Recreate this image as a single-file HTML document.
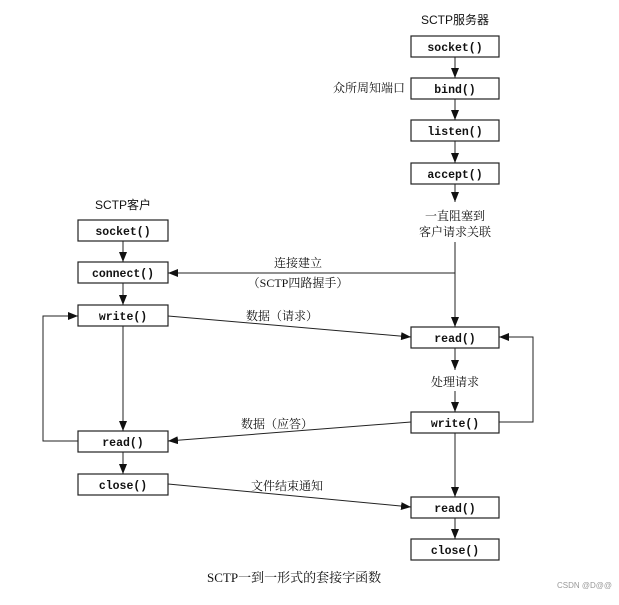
<!DOCTYPE html>
<html><head><meta charset="utf-8"><style>
body{margin:0;background:#fff;width:619px;height:600px;overflow:hidden}
svg text{font-family:"Liberation Serif","Noto Serif CJK SC",serif;font-size:12px;fill:#111}
.m{font-family:"Liberation Mono",monospace;font-size:11.5px;font-weight:bold}
.s{font-family:"Liberation Sans","Noto Sans CJK SC",sans-serif;font-size:12px}
</style></head><body>
<svg width="619" height="600" viewBox="0 0 619 600" xmlns="http://www.w3.org/2000/svg">
<defs><marker id="a" markerWidth="10" markerHeight="8" refX="10" refY="4" orient="auto" markerUnits="userSpaceOnUse"><path d="M0,0 L10,4 L0,8z" fill="#111"/></marker></defs>
<g fill="none" stroke="#222" stroke-width="1.2">
<rect x="411" y="36" width="88" height="21"/><rect x="411" y="78" width="88" height="21"/>
<rect x="411" y="120" width="88" height="21"/><rect x="411" y="163" width="88" height="21"/>
<rect x="411" y="327" width="88" height="21"/><rect x="411" y="412" width="88" height="21"/>
<rect x="411" y="497" width="88" height="21"/><rect x="411" y="539" width="88" height="21"/>
<rect x="78" y="220" width="90" height="21"/><rect x="78" y="262" width="90" height="21"/>
<rect x="78" y="305" width="90" height="21"/><rect x="78" y="431" width="90" height="21"/>
<rect x="78" y="474" width="90" height="21"/>
</g>
<g stroke="#222" stroke-width="1" marker-end="url(#a)">
<line x1="455" y1="57" x2="455" y2="78"/><line x1="455" y1="99" x2="455" y2="120"/>
<line x1="455" y1="141" x2="455" y2="163"/><line x1="455" y1="184" x2="455" y2="202"/>
<line x1="455" y1="242" x2="455" y2="327"/><line x1="455" y1="348" x2="455" y2="370"/>
<line x1="455" y1="391" x2="455" y2="412"/><line x1="455" y1="433" x2="455" y2="497"/>
<line x1="455" y1="518" x2="455" y2="539"/>
<line x1="123" y1="241" x2="123" y2="262"/><line x1="123" y1="283" x2="123" y2="305"/>
<line x1="123" y1="326" x2="123" y2="431"/><line x1="123" y1="452" x2="123" y2="474"/>
<line x1="455" y1="273" x2="168" y2="273"/>
<line x1="168" y1="316" x2="411" y2="337"/>
<line x1="411" y1="422" x2="168" y2="441"/>
<line x1="168" y1="484" x2="411" y2="507"/>
<polyline fill="none" points="78,441 43,441 43,316 78,316"/>
<polyline fill="none" points="499,422 533,422 533,337 499,337"/>
</g>
<g class="m" text-anchor="middle">
<text class="m" x="455" y="51">socket()</text><text class="m" x="455" y="93">bind()</text>
<text class="m" x="455" y="135">listen()</text><text class="m" x="455" y="178">accept()</text>
<text class="m" x="455" y="342">read()</text><text class="m" x="455" y="427">write()</text>
<text class="m" x="455" y="512">read()</text><text class="m" x="455" y="554">close()</text>
<text class="m" x="123" y="235">socket()</text><text class="m" x="123" y="277">connect()</text>
<text class="m" x="123" y="320">write()</text><text class="m" x="123" y="446">read()</text>
<text class="m" x="123" y="489">close()</text>
</g>
<text class="s" x="455" y="24" text-anchor="middle">SCTP服务器</text>
<text class="s" x="123" y="209" text-anchor="middle">SCTP客户</text>
<text x="405" y="92" text-anchor="end">众所周知端口</text>
<text x="455" y="220" text-anchor="middle">一直阻塞到</text>
<text x="455" y="236" text-anchor="middle">客户请求关联</text>
<text x="455" y="386" text-anchor="middle">处理请求</text>
<text x="298" y="267" text-anchor="middle">连接建立</text>
<text x="298" y="287" text-anchor="middle">（SCTP四路握手）</text>
<text x="282" y="320" text-anchor="middle">数据（请求）</text>
<text x="277" y="428" text-anchor="middle">数据（应答）</text>
<text x="287" y="490" text-anchor="middle">文件结束通知</text>
<text x="207" y="582" style="font-size:13px">SCTP一到一形式的套接字函数</text>
<text x="557" y="588" class="s" style="font-size:8px;fill:#999">CSDN @D@@</text>
</svg>
</body></html>
